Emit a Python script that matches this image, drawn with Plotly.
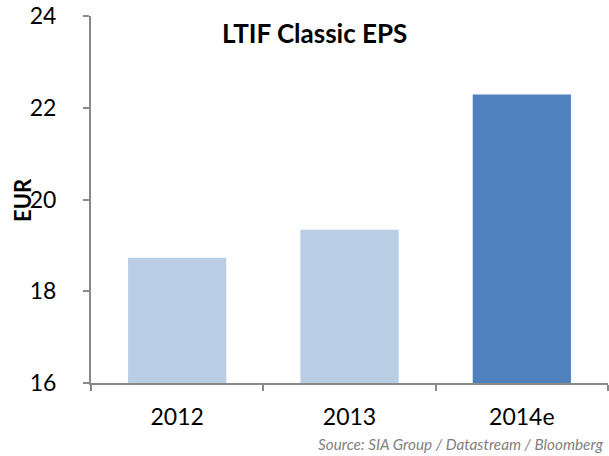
import plotly.graph_objects as go

categories = ["2012", "2013", "2014e"]
eps_values = [18.73, 19.34, 22.29]
bar_colors = ["#B9CDE5", "#B9CDE5", "#4F81BD"]
y_ticks = [16, 18, 20, 22, 24]

fig = go.Figure(go.Bar(x=categories, y=eps_values, marker_color=bar_colors,
                       marker_line_width=0, width=0.57, hoverinfo="skip"))

font = "Lato, Calibri, 'Open Sans', sans-serif"
axcol = "#898989"
W, H = 609, 456
L, R, T, B = 91, 1, 16, 73
pw, ph = W - L - R, H - T - B
def px(x): return (x - L) / pw
def py(y): return (H - B - y) / ph

fig.update_layout(
    width=W, height=H,
    margin=dict(l=L, r=R, t=T, b=B, autoexpand=False),
    plot_bgcolor="white", paper_bgcolor="white",
    showlegend=False,
    font=dict(family=font, color="black"),
    annotations=[
        dict(text="<b>LTIF Classic EPS</b>", x=px(314), y=py(33), xref="paper", yref="paper",
             xanchor="center", yanchor="middle",
             showarrow=False, font=dict(size=26, family=font)),
        dict(text="<i>Source: SIA Group / Datastream / Bloomberg</i>", x=px(606), y=py(444),
             xref="paper", yref="paper", xanchor="right", yanchor="middle", showarrow=False,
             font=dict(size=15.3, color="#7F7F7F", family=font)),
        dict(text="<b>EUR</b>", x=px(22), y=py(200), xref="paper", yref="paper",
             xanchor="center", yanchor="middle",
             showarrow=False, textangle=-90, font=dict(size=22, family=font)),
    ],
)

fig.update_yaxes(range=[16, 24], tickvals=y_ticks, showgrid=False, zeroline=False,
                 showline=True, linecolor=axcol, linewidth=2, automargin=False,
                 ticks="outside", ticklen=6, tickcolor=axcol, tickwidth=1.5,
                 ticklabelstandoff=22, tickfont=dict(size=23, family=font))
fig.update_xaxes(showgrid=False, showline=True, linecolor=axcol, linewidth=2, automargin=False,
                 ticks="outside", ticklen=6, tickcolor=axcol, tickwidth=1.5,
                 tickson="boundaries", ticklabelstandoff=12,
                 tickfont=dict(size=23, family=font))

fig.write_html("out.html", config={"displayModeBar": False},
               post_script="document.body.style.margin='0';")
